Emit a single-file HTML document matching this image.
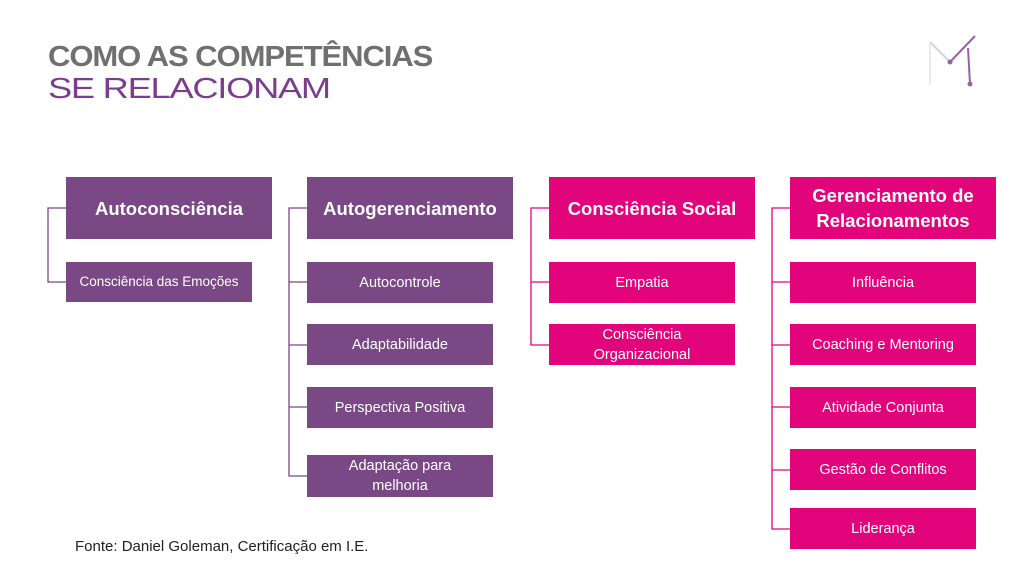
<!DOCTYPE html>
<html><head><meta charset="utf-8"><style>
body{margin:0;width:1024px;height:574px;background:#fff;position:relative;overflow:hidden;font-family:"Liberation Sans",sans-serif}
.b{position:absolute;color:#fff;display:flex;align-items:center;justify-content:center;text-align:center;line-height:20px}
.p{background:#7b4886}.k{background:#e2047b}
.h{font-weight:bold;font-size:18.5px;line-height:25px}
.c{font-size:14.5px}
.t{position:absolute;left:48px;font-size:29px;letter-spacing:-1px;white-space:nowrap}
svg{position:absolute;left:0;top:0}
</style></head><body>
<div class="t" style="top:41px;color:#707070;font-weight:bold;transform:scaleX(1.07);transform-origin:left">COMO AS COMPETÊNCIAS</div>
<div class="t" style="top:73px;color:#7b3d8e;transform:scaleX(1.25);transform-origin:left">SE RELACIONAM</div>
<svg width="1024" height="574">
<g fill="none" stroke-width="1.3">
<path d="M66 208H48V282H66" stroke="#7b4886"/>
<path d="M307 208H289V476H307M289 282H307M289 345H307M289 407H307" stroke="#7b4886"/>
<path d="M549 208H531V345H549M531 282H549" stroke="#e2047b"/>
<path d="M790 208H772V529H790M772 282H790M772 345H790M772 407H790M772 470H790" stroke="#e2047b"/>
</g>
<g opacity="0.8">
<line x1="930" y1="42" x2="950" y2="62" stroke="#c8cbd0" stroke-width="2"/>
<line x1="930" y1="42" x2="930" y2="85" stroke="#e4e6ea" stroke-width="2"/>
<line x1="950" y1="62" x2="975" y2="36" stroke="#7b3d8e" stroke-width="2"/>
<line x1="968" y1="48" x2="970" y2="84" stroke="#7b3d8e" stroke-width="2"/>
<circle cx="950" cy="62" r="2.5" fill="#7b3d8e"/><circle cx="970" cy="84" r="2.5" fill="#7b3d8e"/>
</g>
</svg>
<div class="b p h" style="left:66px;top:177px;width:206px;height:62px">Autoconsciência</div>
<div class="b p c" style="left:66px;top:262px;width:186px;height:40px;font-size:13.5px">Consciência das Emoções</div>
<div class="b p h" style="left:307px;top:177px;width:206px;height:62px">Autogerenciamento</div>
<div class="b p c" style="left:307px;top:262px;width:186px;height:41px">Autocontrole</div>
<div class="b p c" style="left:307px;top:324px;width:186px;height:41px">Adaptabilidade</div>
<div class="b p c" style="left:307px;top:387px;width:186px;height:41px">Perspectiva Positiva</div>
<div class="b p c" style="left:307px;top:455px;width:186px;height:42px">Adaptação para<br>melhoria</div>
<div class="b k h" style="left:549px;top:177px;width:206px;height:62px">Consciência Social</div>
<div class="b k c" style="left:549px;top:262px;width:186px;height:41px">Empatia</div>
<div class="b k c" style="left:549px;top:324px;width:186px;height:41px">Consciência<br>Organizacional</div>
<div class="b k h" style="left:790px;top:177px;width:206px;height:62px">Gerenciamento de<br>Relacionamentos</div>
<div class="b k c" style="left:790px;top:262px;width:186px;height:41px">Influência</div>
<div class="b k c" style="left:790px;top:324px;width:186px;height:41px">Coaching e Mentoring</div>
<div class="b k c" style="left:790px;top:387px;width:186px;height:41px">Atividade Conjunta</div>
<div class="b k c" style="left:790px;top:449px;width:186px;height:41px">Gestão de Conflitos</div>
<div class="b k c" style="left:790px;top:508px;width:186px;height:41px">Liderança</div>
<div style="position:absolute;left:75px;top:538px;font-size:15px;color:#222">Fonte: Daniel Goleman, Certificação em I.E.</div>
</body></html>
